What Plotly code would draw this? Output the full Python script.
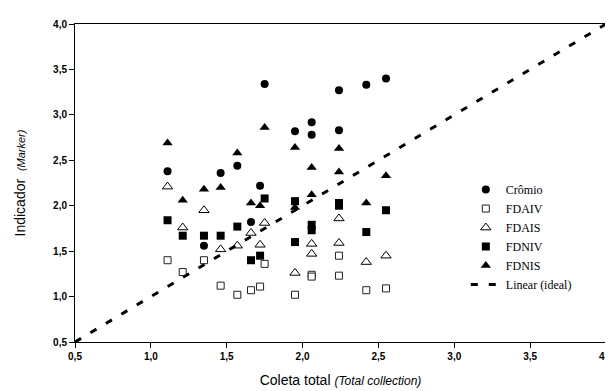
import plotly.graph_objects as go

# Crômio
cr_x = [1.11, 1.35, 1.46, 1.57, 1.66, 1.72, 1.75, 1.95, 2.06, 2.06, 2.24, 2.24, 2.42, 2.55]
cr_y = [2.38, 1.56, 2.36, 2.44, 1.82, 2.22, 3.34, 2.82, 2.92, 2.78, 2.83, 3.27, 3.33, 3.40]

# FDAIV
aiv_x = [1.11, 1.21, 1.35, 1.46, 1.57, 1.66, 1.72, 1.75, 1.95, 2.06, 2.06, 2.24, 2.24, 2.42, 2.55]
aiv_y = [1.40, 1.27, 1.40, 1.12, 1.02, 1.07, 1.11, 1.36, 1.02, 1.24, 1.22, 1.45, 1.23, 1.07, 1.09]

# FDAIS
ais_x = [1.11, 1.21, 1.35, 1.46, 1.57, 1.66, 1.72, 1.75, 1.95, 2.06, 2.06, 2.24, 2.24, 2.42, 2.55]
ais_y = [2.21, 1.76, 1.95, 1.52, 1.56, 1.70, 1.57, 1.81, 1.26, 1.58, 1.47, 1.86, 1.59, 1.38, 1.45]

# FDNIV
niv_x = [1.11, 1.21, 1.35, 1.46, 1.57, 1.66, 1.72, 1.75, 1.95, 1.95, 2.06, 2.06, 2.24, 2.24, 2.42, 2.55]
niv_y = [1.84, 1.67, 1.67, 1.67, 1.77, 1.40, 1.45, 2.08, 2.05, 1.60, 1.79, 1.73, 2.03, 2.00, 1.71, 1.95]

# FDNIS
nis_x = [1.11, 1.21, 1.35, 1.46, 1.57, 1.66, 1.72, 1.75, 1.95, 1.95, 2.06, 2.06, 2.24, 2.24, 2.42, 2.55]
nis_y = [2.69, 2.06, 2.18, 2.20, 2.58, 2.03, 2.00, 2.86, 2.64, 1.98, 2.42, 2.12, 2.63, 2.37, 2.03, 2.33]

# Linear (ideal)
lin_x = [0.5, 4.0]
lin_y = [0.5, 4.0]

tick_vals = [0.5, 1.0, 1.5, 2.0, 2.5, 3.0, 3.5, 4.0]
tick_text = ["0,5", "1,0", "1,5", "2,0", "2,5", "3,0", "3,5", "4,0"]

fig = go.Figure()
fig.add_trace(go.Scatter(x=cr_x, y=cr_y, mode="markers", name="Crômio",
                         marker=dict(symbol="circle", size=8, color="black")))
fig.add_trace(go.Scatter(x=aiv_x, y=aiv_y, mode="markers", name="FDAIV",
                         marker=dict(symbol="square", size=7, color="white",
                                     line=dict(color="#222222", width=1))))
fig.add_trace(go.Scatter(x=ais_x, y=ais_y, mode="markers", name="FDAIS",
                         marker=dict(symbol="triangle-up", size=9, color="white",
                                     line=dict(color="black", width=1))))
fig.add_trace(go.Scatter(x=niv_x, y=niv_y, mode="markers", name="FDNIV",
                         marker=dict(symbol="square", size=8, color="black")))
fig.add_trace(go.Scatter(x=nis_x, y=nis_y, mode="markers", name="FDNIS",
                         marker=dict(symbol="triangle-up", size=9, color="black")))
fig.add_trace(go.Scatter(x=lin_x, y=lin_y, mode="lines", name="Linear (ideal)",
                         line=dict(color="black", width=3, dash="7px,11px")))

axis_common = dict(
    showgrid=False, zeroline=False, showline=True, linecolor="black", linewidth=1,
    mirror=True, ticks="outside", ticklen=5, tickcolor="black", tickwidth=1,
    tickvals=tick_vals, ticktext=tick_text,
    tickfont=dict(family="Liberation Sans", size=10, color="black", weight="bold"),
)

fig.update_xaxes(range=[0.5, 4.0], **axis_common,
                 title=dict(text="Coleta total <i><span style='font-size:12px'>(Total collection)</span></i>",
                            font=dict(family="Liberation Sans", size=14, color="black"),
                            standoff=14))
fig.update_yaxes(range=[0.5, 4.0], **axis_common,
                 title=dict(text="Indicador  <i><span style='font-size:11px'>(Marker)</span></i>",
                            font=dict(family="Liberation Sans", size=14, color="black"),
                            standoff=24))

fig.update_layout(
    width=613, height=391,
    margin=dict(l=67, r=8, t=16, b=57),
    plot_bgcolor="white", paper_bgcolor="white",
    showlegend=True,
    legend=dict(x=0.736, y=0.525, xanchor="left", yanchor="top",
                bgcolor="rgba(0,0,0,0)", borderwidth=0,
                font=dict(family="Liberation Serif", size=12, color="black"),
                tracegroupgap=0),
)

fig.write_html("out.html")
